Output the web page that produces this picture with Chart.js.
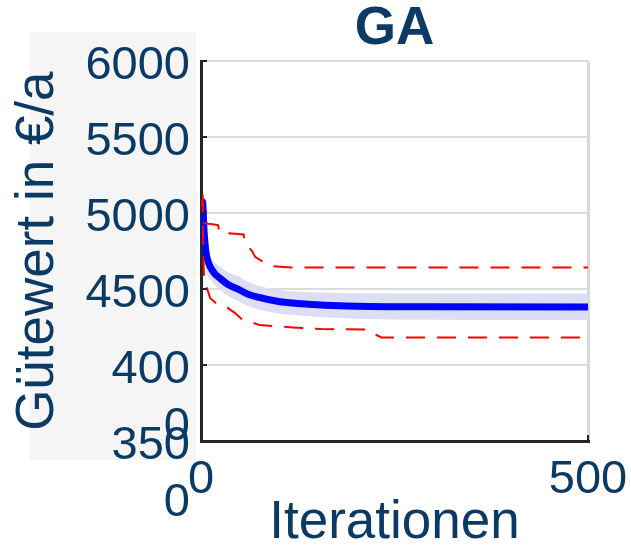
<!DOCTYPE html>
<html>
<head>
<meta charset="utf-8">
<script src="https://cdn.jsdelivr.net/npm/chart.js@4"></script>
<style>
  html, body { margin: 0; padding: 0; background: #ffffff; }
  #wrap { width: 631px; height: 547px; }
</style>
</head>
<body>
<div id="wrap"><canvas id="gaChart" width="631" height="547"></canvas></div>
<script>
// iterations where the mean curve and its shaded band were read
const meanIter = [0, 2, 4, 6, 8, 12, 18, 25, 35, 48, 60, 75, 100, 130, 160, 200, 300, 500];
const meanValues = [5000, 5075, 4880, 4760, 4700, 4645, 4600, 4570, 4530, 4500, 4468, 4445, 4418, 4403, 4394, 4388, 4384, 4383];
const bandUpper = [5030, 5100, 4960, 4870, 4800, 4720, 4675, 4645, 4610, 4585, 4550, 4520, 4495, 4482, 4476, 4473, 4471, 4471];
const bandLower = [4970, 5050, 4800, 4660, 4600, 4565, 4525, 4495, 4455, 4420, 4390, 4365, 4340, 4325, 4315, 4305, 4298, 4296];

// red dashed envelope (best / worst run)
const upperIter = [0, 2, 4, 10, 22, 24, 55, 57, 66, 70, 78, 93, 117, 500];
const upperValues = [5040, 5090, 4935, 4930, 4922, 4872, 4860, 4800, 4750, 4712, 4686, 4651, 4643, 4643];
const lowerIter = [0, 2, 3, 4, 7, 12, 20, 27, 35, 44, 52, 58, 76, 93, 118, 155, 215, 222, 233, 500];
const lowerValues = [5040, 5080, 4700, 4580, 4515, 4440, 4405, 4390, 4375, 4342, 4305, 4295, 4263, 4257, 4248, 4237, 4234, 4210, 4182, 4182];

const yTickValues = [3500, 4000, 4500, 5000, 5500, 6000];
const yTickLabels = [['', '350', '0'], ['', '400', '0'], '4500', '5000', '5500', '6000'];
const xTickLabels = ['0', '500'];

const textColor = '#0b3a64';
const fontFamily = "'Liberation Sans', Arial, sans-serif";

const toPoints = (xs, ys) => xs.map((x, i) => ({ x: x, y: ys[i] }));

// grey panel behind the y labels
const panelBackground = {
    id: 'panelBackground',
    beforeDraw(chart) {
        const ctx = chart.ctx;
        ctx.save();
        ctx.fillStyle = '#f5f5f5';
        ctx.fillRect(30, 32, 166, 428);
        ctx.restore();
    }
};

// matlab style tick marks pointing into the plot
const innerTicks = {
    id: 'innerTicks',
    afterDraw(chart) {
        const { ctx, scales: { x, y } } = chart;
        ctx.save();
        ctx.strokeStyle = '#262626';
        ctx.lineWidth = 2;
        ctx.beginPath();
        y.ticks.forEach(t => {
            const py = Math.round(y.getPixelForValue(t.value));
            ctx.moveTo(x.left, py);
            ctx.lineTo(x.left + 6, py);
        });
        x.ticks.forEach(t => {
            const px = Math.round(x.getPixelForValue(t.value));
            ctx.moveTo(px, y.bottom);
            ctx.lineTo(px, y.bottom - 6);
        });
        ctx.stroke();
        ctx.restore();
    }
};

new Chart(document.getElementById('gaChart'), {
    type: 'line',
    data: {
        datasets: [
            {
                label: 'max',
                data: toPoints(upperIter, upperValues),
                borderColor: '#ff0000',
                borderWidth: 2,
                borderDash: [19, 12],
                pointRadius: 0,
                fill: false
            },
            {
                label: 'min',
                data: toPoints(lowerIter, lowerValues),
                borderColor: '#ff0000',
                borderWidth: 2,
                borderDash: [19, 12],
                pointRadius: 0,
                fill: false
            },
            {
                label: 'mean',
                data: toPoints(meanIter, meanValues),
                borderColor: '#0000ff',
                borderWidth: 7,
                pointRadius: 0,
                cubicInterpolationMode: 'monotone',
                fill: false
            },
            {
                label: 'band upper',
                data: toPoints(meanIter, bandUpper),
                borderWidth: 0,
                borderColor: 'rgba(0,0,0,0)',
                backgroundColor: '#dddef3',
                pointRadius: 0,
                cubicInterpolationMode: 'monotone',
                fill: '+1'
            },
            {
                label: 'band lower',
                data: toPoints(meanIter, bandLower),
                borderWidth: 0,
                borderColor: 'rgba(0,0,0,0)',
                pointRadius: 0,
                cubicInterpolationMode: 'monotone',
                fill: false
            }
        ]
    },
    options: {
        responsive: false,
        animation: false,
        devicePixelRatio: 1,
        layout: { padding: { left: 0, right: 43, top: 0, bottom: 0 } },
        plugins: {
            legend: { display: false },
            tooltip: { enabled: false },
            title: {
                display: true,
                text: 'GA',
                color: textColor,
                fullSize: false,
                font: { family: fontFamily, size: 53, weight: 'bold', lineHeight: 1.1 },
                padding: { top: 0, bottom: 3 }
            }
        },
        scales: {
            x: {
                type: 'linear',
                min: 0,
                max: 500,
                afterFit(scale) {
                    scale.height = 106;
                    scale.paddingLeft = 0;
                    scale.paddingRight = 0;
                },
                afterBuildTicks(scale) {
                    scale.ticks = [{ value: 0 }, { value: 500 }];
                },
                ticks: {
                    autoSkip: false,
                    maxRotation: 0,
                    padding: 11,
                    color: textColor,
                    font: { family: fontFamily, size: 47, lineHeight: 1.2 },
                    callback: (v, i) => xTickLabels[i]
                },
                grid: { color: '#d9d9d9', lineWidth: 3, drawTicks: false },
                border: { color: '#262626', width: 3 },
                title: {
                    display: true,
                    text: 'Iterationen',
                    color: textColor,
                    font: { family: fontFamily, size: 53, lineHeight: 0.9 },
                    padding: 0
                }
            },
            y: {
                type: 'linear',
                min: 3500,
                max: 6000,
                afterFit(scale) {
                    scale.width = 201;
                    scale.paddingTop = 0;
                    scale.paddingBottom = 0;
                },
                afterBuildTicks(scale) {
                    scale.ticks = yTickValues.map(v => ({ value: v }));
                },
                ticks: {
                    autoSkip: false,
                    padding: 11,
                    labelOffset: 5,
                    color: textColor,
                    font: { family: fontFamily, size: 47, lineHeight: 1.21 },
                    callback: (v) => yTickLabels[yTickValues.indexOf(v)]
                },
                grid: { color: '#dcdcdc', lineWidth: 2, drawTicks: false },
                border: { color: '#262626', width: 3 },
                title: {
                    display: true,
                    text: 'Gütewert in €/a',
                    color: textColor,
                    font: { family: fontFamily, size: 53, lineHeight: 1.2 },
                    padding: { top: 7, bottom: 0 }
                }
            }
        }
    },
    plugins: [panelBackground, innerTicks]
});
</script>
</body>
</html>
